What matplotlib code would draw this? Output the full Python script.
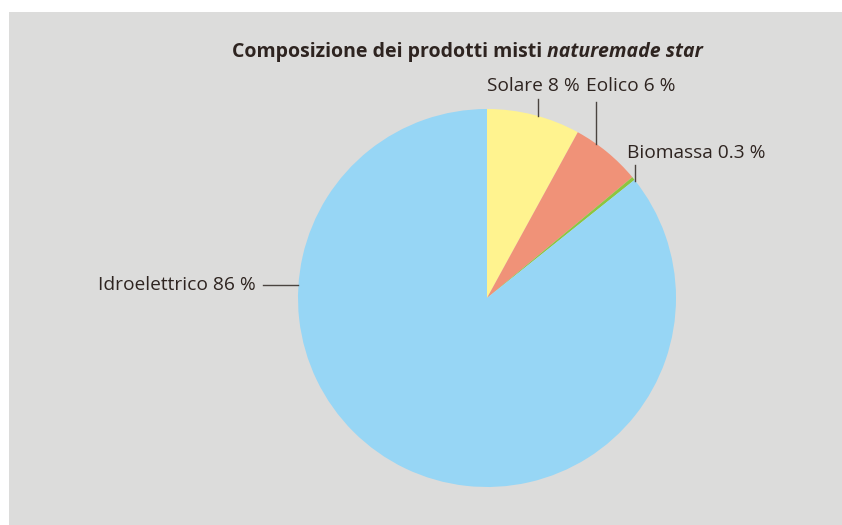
import numpy as np
import matplotlib
matplotlib.use("Agg")
import matplotlib.pyplot as plt
from matplotlib.patches import Rectangle

# data
sources = ["Solare", "Eolico", "Biomassa", "Idroelettrico"]
shares = [8, 6, 0.3, 86]
share_labels = ["8 %", "6 %", "0.3 %", "86 %"]
colors = ["#fff38f", "#f09278", "#8cc63f", "#97d6f5"]

text_col = "#2e2420"
bg = "#dcdcdb"
plt.rcParams['font.family'] = ['Open Sans', 'DejaVu Sans']

fig = plt.figure(figsize=(8.42, 5.25), dpi=100)
fig.patch.set_facecolor("white")
fig.add_artist(Rectangle((9 / 842, 0), 1, 1 - 12 / 525, transform=fig.transFigure,
                         facecolor=bg, edgecolor="none", zorder=0))

W, H = 842, 525
cx, cy, r = 487, 298, 189
ax = fig.add_axes([(cx - r) / W, (H - cy - r) / H, 2 * r / W, 2 * r / H])
ax.pie(shares, colors=colors, startangle=90, counterclock=False,
       radius=1, wedgeprops=dict(linewidth=0))
ax.set_xlim(-1, 1)
ax.set_ylim(-1, 1)
ax.set_aspect("equal")
ax.axis("off")

# leader lines: (angle on circle, end point in px, text anchor px, ha)
leaders = [
    (74.3, (538, 99), (487, 86), "left"),
    (54.8, (596, 102), (586, 86), "left"),
    (38.3, (636, 165), (627, 153), "left"),
    (176.0, (263, 285), (256, 285), "right"),
]

def to_data(px, py):
    return (px - cx) / r, (cy - py) / r

fs = 13.8
for name, lab, (ang, endp, txtp, ha) in zip(sources, share_labels, leaders):
    a = np.deg2rad(ang)
    x0, y0 = np.cos(a), np.sin(a)
    ex, ey = to_data(*endp)
    if ha == "right":
        ax.plot([x0, ex], [y0, y0], color="#4a4440", lw=1, clip_on=False)
    else:
        ax.plot([x0, x0], [y0, ey], color="#4a4440", lw=1, clip_on=False)
    tx, ty = to_data(*txtp)
    ax.text(tx, ty, f"{name} {lab}", ha=ha, va="center", fontsize=fs,
            color=text_col, clip_on=False)

# title in two parts, centred as a whole
ty = 1 - 52 / H
t1 = fig.text(0, ty, "Composizione dei prodotti misti ", fontsize=14,
              fontweight="bold", color=text_col, ha="left", va="center")
t2 = fig.text(0, ty, "naturemade star", fontsize=14, fontweight="bold",
              fontstyle="italic", color=text_col, ha="left", va="center")
fig.canvas.draw()
w1 = t1.get_window_extent().width
w2 = t2.get_window_extent().width
x_start = 467.5 - (w1 + w2) / 2
t1.set_x(x_start / W)
t2.set_x((x_start + w1) / W)

fig.savefig("out.png", dpi=100, facecolor=fig.get_facecolor())
